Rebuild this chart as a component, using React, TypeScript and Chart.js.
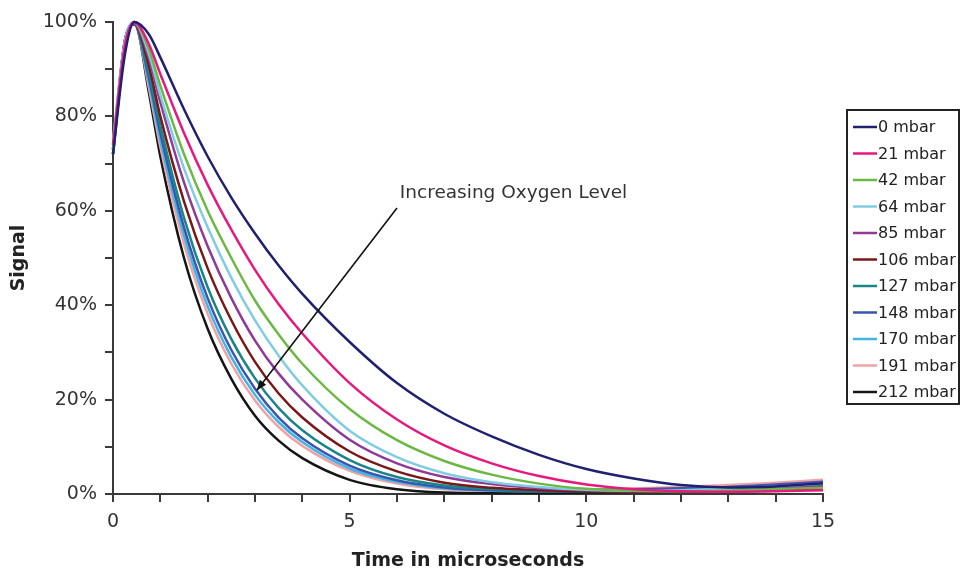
import { useEffect, useRef } from "react";
import { Chart, registerables } from "chart.js";

Chart.register(...registerables);

// Time axis (microseconds)
const TIMES = [0, 0.25, 0.45, 0.75, 1, 1.5, 2, 2.5, 3, 3.5, 4, 5, 6, 7, 8, 9, 10, 11, 12, 13, 14, 15];

const SERIES_LABELS = ["0 mbar", "21 mbar", "42 mbar", "64 mbar", "85 mbar", "106 mbar", "127 mbar", "148 mbar", "170 mbar", "191 mbar", "212 mbar"];
const SERIES_COLORS = ["#202070", "#e6197f", "#6cb844", "#80cde2", "#8e3a96", "#7a1818", "#1a8585", "#3a56b0", "#40b4e6", "#f2a2a2", "#151515"];

// Signal values (%)
const S_0 = [72, 93, 100, 97.5, 92.5, 81.5, 71.5, 62.8, 55.2, 48.4, 42.4, 32.2, 23.5, 17, 12.2, 8.3, 5.3, 3.3, 1.9, 1.4, 1.6, 2.3];
const S_21 = [74, 95, 100, 95.5, 89, 76.5, 65.5, 56, 47.5, 40.2, 34, 23.5, 15.8, 10.3, 6.5, 3.8, 2.0, 1.0, 0.6, 0.5, 0.6, 0.8];
const S_42 = [73, 94, 100, 94.5, 86.5, 72, 60, 50, 41, 33.8, 27.6, 18, 11.4, 7, 4.1, 2.2, 1.1, 0.7, 0.6, 0.7, 1.0, 1.3];
const S_64 = [75, 96, 100, 93.5, 84.5, 69, 56.5, 45.8, 36.8, 29.3, 23, 13.4, 7.8, 4.4, 2.5, 1.5, 0.9, 0.7, 0.8, 1.1, 1.6, 2.2];
const S_85 = [74, 96, 99.5, 92.5, 83, 66, 52.5, 41.5, 32.5, 25.5, 20, 11.5, 6.5, 3.6, 2.1, 1.2, 0.8, 0.6, 0.7, 0.9, 1.2, 1.6];
const S_106 = [73, 96, 99.5, 91, 80, 62, 47.8, 36.8, 28, 21.3, 16.2, 9, 4.8, 2.4, 1.3, 0.8, 0.6, 0.5, 0.5, 0.6, 0.7, 0.9];
const S_127 = [72, 96, 99.5, 89.5, 78, 58.5, 43.8, 32.8, 24.5, 18.2, 13.5, 7.2, 3.6, 1.8, 1.0, 0.7, 0.6, 0.7, 0.8, 1.0, 1.3, 1.7];
const S_148 = [73, 96, 99.5, 88.5, 76.5, 56.5, 41.5, 30.5, 22.3, 16.2, 11.8, 6, 2.9, 1.4, 0.8, 0.7, 0.8, 1.0, 1.2, 1.5, 2.0, 2.6];
const S_170 = [72, 95, 99.5, 87.5, 75, 54.8, 39.8, 29, 21, 15.2, 11, 5.4, 2.6, 1.2, 0.7, 0.6, 0.7, 0.9, 1.1, 1.4, 1.8, 2.3];
const S_191 = [73, 95, 100, 86.5, 73.5, 53, 38.2, 27.6, 19.8, 14.2, 10.2, 4.9, 2.2, 1.0, 0.7, 0.7, 0.9, 1.2, 1.5, 1.9, 2.4, 3.0];
const S_212 = [72, 95, 100, 85.5, 71.5, 50, 35, 24.4, 16.6, 11.3, 7.6, 3.0, 1.0, 0.3, 0.2, 0.2, 0.3, 0.4, 0.5, 0.6, 0.8, 1.0];

const SERIES = [S_0, S_21, S_42, S_64, S_85, S_106, S_127, S_148, S_170, S_191, S_212];

const X_TITLE = "Time in microseconds";
const Y_TITLE = "Signal";
const ANNOTATION_TEXT = "Increasing Oxygen Level";
const ANNOTATION_TEXT_AT = { x: 6.06, y: 63.8 };
const ARROW_FROM = { x: 6.0, y: 60.6 };
const ARROW_TO = { x: 3.04, y: 22.0 };

const FONT = "'DejaVu Sans', Verdana, sans-serif";
const AXIS_COLOR = "#3a3a3a";
const TEXT_COLOR = "#333333";

const overlayPlugin = {
  id: "overlay",
  afterDatasetsDraw(chart: any) {
    const { ctx, chartArea } = chart;
    const xs = chart.scales.x;
    const ys = chart.scales.y;
    ctx.save();
    // annotation text
    ctx.font = `18.5px ${FONT}`;
    ctx.fillStyle = TEXT_COLOR;
    ctx.textBaseline = "middle";
    ctx.textAlign = "left";
    ctx.fillText(ANNOTATION_TEXT, xs.getPixelForValue(ANNOTATION_TEXT_AT.x), ys.getPixelForValue(ANNOTATION_TEXT_AT.y));
    // arrow
    const x1 = xs.getPixelForValue(ARROW_FROM.x);
    const y1 = ys.getPixelForValue(ARROW_FROM.y);
    const x2 = xs.getPixelForValue(ARROW_TO.x);
    const y2 = ys.getPixelForValue(ARROW_TO.y);
    ctx.strokeStyle = "#111";
    ctx.fillStyle = "#111";
    ctx.lineWidth = 1.6;
    ctx.beginPath();
    ctx.moveTo(x1, y1);
    ctx.lineTo(x2, y2);
    ctx.stroke();
    const ang = Math.atan2(y2 - y1, x2 - x1);
    const L = 10;
    const W = 4;
    ctx.beginPath();
    ctx.moveTo(x2, y2);
    ctx.lineTo(x2 - L * Math.cos(ang) + W * Math.sin(ang), y2 - L * Math.sin(ang) - W * Math.cos(ang));
    ctx.lineTo(x2 - L * Math.cos(ang) - W * Math.sin(ang), y2 - L * Math.sin(ang) + W * Math.cos(ang));
    ctx.closePath();
    ctx.fill();

    // legend
    const left = chartArea.right + 24;
    const top = 110;
    const w = 112;
    const h = 294;
    ctx.fillStyle = "#fff";
    ctx.fillRect(left, top, w, h);
    ctx.strokeStyle = "#222";
    ctx.lineWidth = 2;
    ctx.strokeRect(left, top, w, h);
    ctx.font = `16px ${FONT}`;
    chart.data.datasets.forEach((ds: any, i: number) => {
      const cy = top + 17 + i * 26.5;
      ctx.strokeStyle = ds.borderColor;
      ctx.lineWidth = 2.5;
      ctx.beginPath();
      ctx.moveTo(left + 6, cy);
      ctx.lineTo(left + 30, cy);
      ctx.stroke();
      ctx.fillStyle = "#222";
      ctx.textAlign = "left";
      ctx.textBaseline = "middle";
      ctx.fillText(ds.label, left + 31, cy + 1);
    });
    ctx.restore();
  },
};

export default function App() {
  const canvasRef = useRef<HTMLCanvasElement | null>(null);

  useEffect(() => {
    const canvas = canvasRef.current;
    if (!canvas) return;
    const datasets = SERIES.map((vals, i) => ({
      label: SERIES_LABELS[i],
      data: vals.map((v, j) => ({ x: TIMES[j], y: v })),
      borderColor: SERIES_COLORS[i],
      backgroundColor: SERIES_COLORS[i],
      borderWidth: 2.5,
      pointRadius: 0,
      fill: false,
      cubicInterpolationMode: "monotone" as const,
      clip: false as any,
    }));
    const chart = new Chart(canvas, {
      type: "line",
      data: { datasets },
      options: {
        animation: false,
        responsive: false,
        maintainAspectRatio: false,
        layout: { padding: { top: 22, right: 138, left: 0, bottom: 0 } },
        plugins: {
          legend: { display: false },
          tooltip: { enabled: false },
        },
        scales: {
          x: {
            type: "linear",
            min: 0,
            max: 15,
            afterFit: (s: any) => {
              s.height = 78;
            },
            ticks: {
              stepSize: 1,
              autoSkip: false,
              maxRotation: 0,
              padding: 9,
              color: TEXT_COLOR,
              font: { family: FONT, size: 19 },
              callback: (v: any) => (Number(v) % 5 === 0 ? String(v) : ""),
            },
            grid: { drawOnChartArea: false, drawTicks: true, tickLength: 8, color: AXIS_COLOR, lineWidth: 2 },
            border: { display: true, color: AXIS_COLOR, width: 2 },
            title: {
              display: true,
              text: X_TITLE,
              color: "#222",
              font: { family: FONT, size: 19, weight: "bold" },
              padding: { top: 0, bottom: 0 },
            },
          },
          y: {
            type: "linear",
            min: 0,
            max: 100,
            afterFit: (s: any) => {
              s.width = 113;
            },
            ticks: {
              stepSize: 10,
              autoSkip: false,
              padding: 8,
              color: TEXT_COLOR,
              font: { family: FONT, size: 19 },
              callback: (v: any) => (Number(v) % 20 === 0 ? `${v}%` : ""),
            },
            grid: { drawOnChartArea: false, drawTicks: true, tickLength: 8, color: AXIS_COLOR, lineWidth: 2 },
            border: { display: true, color: AXIS_COLOR, width: 2 },
            title: {
              display: true,
              text: Y_TITLE,
              color: "#222",
              font: { family: FONT, size: 19, weight: "bold" },
              padding: { top: 8, bottom: 0 },
            },
          },
        },
      },
      plugins: [overlayPlugin],
    });
    return () => chart.destroy();
  }, []);

  return (
    <div style={{ position: "absolute", left: 0, top: 0, width: 961, height: 572, background: "#fff" }}>
      <canvas ref={canvasRef} width={961} height={572} style={{ display: "block", width: 961, height: 572 }} />
    </div>
  );
}
